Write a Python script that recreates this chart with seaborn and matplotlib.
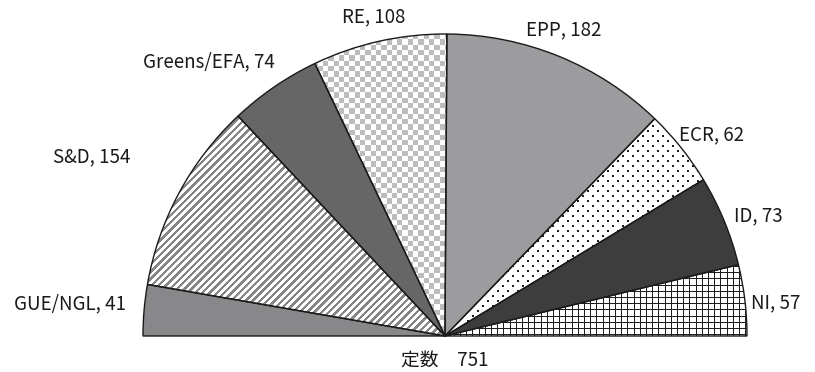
import numpy as np
import matplotlib
matplotlib.use('Agg')
import matplotlib.pyplot as plt
from matplotlib.colors import to_rgba
import seaborn as sns

# seats per political group (EU parliament), drawn left -> right over the half circle
groups = ['GUE/NGL', 'S&D', 'Greens/EFA', 'RE', 'EPP', 'ECR', 'ID', 'NI']
seats = [41, 154, 74, 108, 182, 62, 73, 57]
total_label = '定数'

# styling (kept apart from the data)
fills = ['#88888b', '#ffffff', '#666666', '#ffffff', '#9c9c9e', '#ffffff', '#3d3d3d', '#ffffff']
textures = [None, 'stripes', None, 'checker', None, 'dots', None, 'grid']
label_xy = [(-1.242, 0.106), (-1.169, 0.593), (-0.781, 0.907), (-0.235, 1.056),
            (0.394, 1.013), (0.884, 0.667), (1.036, 0.397), (1.096, 0.109)]

sns.set_theme(style='white')
plt.rcParams['font.family'] = ['Noto Sans CJK JP', 'DejaVu Sans']

PX = 302.0  # pixels per unit radius


def texture(kind, w, h):
    ix, iy = np.meshgrid(np.arange(w), np.arange(h))
    img = np.ones((h, w, 4))
    if kind == 'stripes':
        mask = ((ix - iy) % 7.3) < 3.4
        col = '#868686'
    elif kind == 'checker':
        mask = ((np.floor(ix / 5.3) + np.floor(iy / 5.3)) % 2) == 1
        col = '#bcbdbf'
    elif kind == 'dots':
        mask = (((ix % 10) < 2) & ((iy % 10) < 2)) | \
               ((((ix + 5) % 10) < 2) & (((iy + 5) % 10) < 2))
        col = '#1e1e1e'
    else:
        mask = ((ix % 6.2) < 1.0) | ((iy % 6.2) < 1.0)
        col = '#1e1e1e'
    img[mask] = to_rgba(col)
    return img


fig = plt.figure(figsize=(8.15, 3.72), dpi=100)
ax = fig.add_axes([0, 0, 1, 1])

vals = seats + [sum(seats)]
wedges, _ = ax.pie(vals, startangle=180, counterclock=False, radius=1,
                   colors=fills + ['#ffffff'], wedgeprops=dict(linewidth=0))
wedges[-1].set_visible(False)

x0, y0 = -1.02, -0.02
W, H = int(2.04 * PX), int(1.04 * PX)
for w, t in zip(wedges, textures):
    if t is None:
        continue
    im = ax.imshow(texture(t, W, H), extent=(x0, x0 + W / PX, y0, y0 + H / PX),
                   interpolation='nearest', origin='lower', zorder=w.get_zorder() + 0.1)
    im.set_clip_path(w)

# black outlines on top
outl, _ = ax.pie(vals, startangle=180, counterclock=False, radius=1,
                 wedgeprops=dict(fill=False, edgecolor='#1a1a1a', linewidth=1.0))
outl[-1].set_visible(False)
for o in outl:
    o.set_zorder(5)

for g, s, (x, y) in zip(groups, seats, label_xy):
    ax.text(x, y, f'{g}, {s}', ha='center', va='center', fontsize=13.5, color='#1a1a1a')
ax.text(0, -0.079, f'{total_label}\u3000{sum(seats)}', ha='center', va='center',
        fontsize=13.5, color='#1a1a1a')

ax.set_aspect('auto')
ax.set_xlim(-1.4735, 1.2252)
ax.set_ylim(-0.1192, 1.1126)
ax.axis('off')

fig.savefig('out.png', dpi=100)
